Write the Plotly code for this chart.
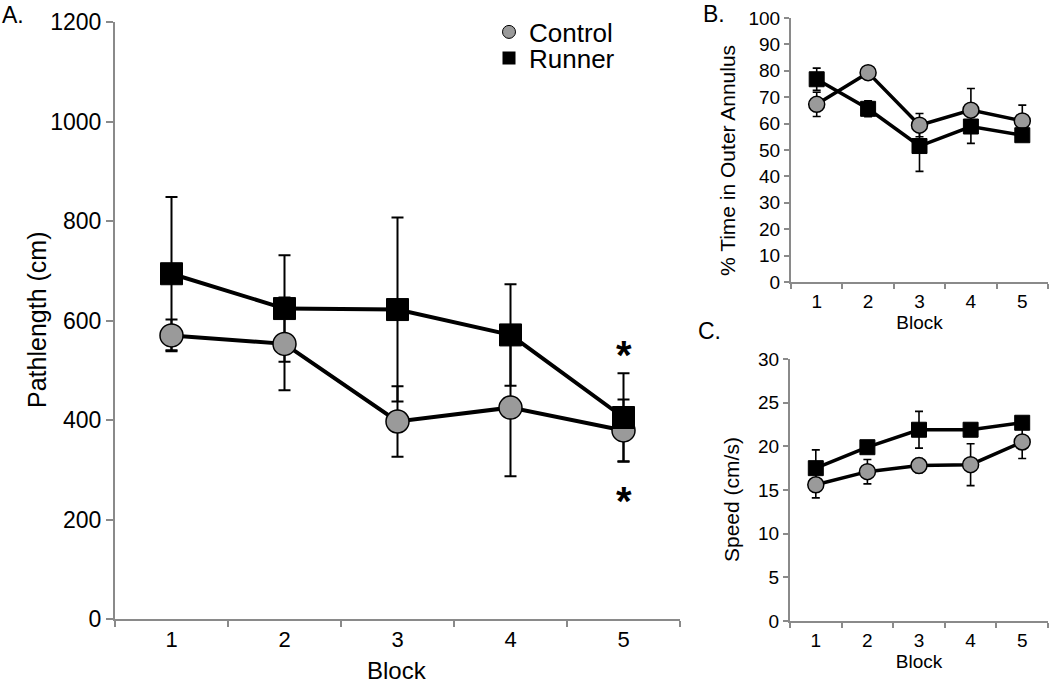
import plotly.graph_objects as go

blocks = ["1", "2", "3", "4", "5"]

# Panel A: Pathlength (cm)
path_control = [570, 553, 397, 425, 379]
path_control_err = [32, 93, 71, 138, 62]
path_runner = [694, 624, 622, 571, 405]
path_runner_err = [154, 107, 185, 102, 89]

# Panel B: % Time in Outer Annulus
time_control = [67.3, 79.3, 59.4, 65.1, 61.0]
time_control_err = [4.6, 1.0, 4.4, 8.2, 6.0]
time_runner = [76.8, 65.6, 51.5, 58.9, 55.6]
time_runner_err = [4.2, 3.0, 9.6, 6.4, 1.0]

# Panel C: Speed (cm/s)
speed_control = [15.6, 17.1, 17.8, 17.9, 20.5]
speed_control_err = [1.5, 1.4, 0.8, 2.4, 1.9]
speed_runner = [17.5, 19.9, 21.9, 21.9, 22.7]
speed_runner_err = [2.1, 0.7, 2.1, 0.5, 0.6]

FONT = "Liberation Sans, Arial, sans-serif"
GREY = "#9a9a9a"
AXIS = "#8a8a8a"

W, H = 1050, 686
def px(sx):
    return sx / W
def py(sy):
    return 1 - sy / H

fig = go.Figure()

panels = [
    ("x", "y", path_control, path_control_err, path_runner, path_runner_err, 23, 22, 4, 2, 6),
    ("x2", "y2", time_control, time_control_err, time_runner, time_runner_err, 16, 15, 3.5, 1.6, 4),
    ("x3", "y3", speed_control, speed_control_err, speed_runner, speed_runner_err, 16, 15, 3.5, 1.6, 4),
]

for xa, ya, c, ce, r, re_, csize, ssize, lw, ew, ewid in panels:
    for vals, errs in ((c, ce), (r, re_)):
        fig.add_trace(go.Scatter(
            x=blocks, y=vals, xaxis=xa, yaxis=ya, mode="markers",
            marker=dict(size=1, color="rgba(0,0,0,0)"),
            error_y=dict(type="data", array=errs, visible=True, color="black",
                         thickness=ew, width=ewid),
            showlegend=False, hoverinfo="skip"))
    fig.add_trace(go.Scatter(
        x=blocks, y=c, xaxis=xa, yaxis=ya, mode="lines+markers",
        line=dict(color="black", width=lw),
        marker=dict(symbol="circle", size=csize, color=GREY,
                    line=dict(color="black", width=1.5)),
        showlegend=False, name="Control"))
    fig.add_trace(go.Scatter(
        x=blocks, y=r, xaxis=xa, yaxis=ya, mode="lines+markers",
        line=dict(color="black", width=lw),
        marker=dict(symbol="square", size=ssize, color="black",
                    line=dict(color="black", width=1)),
        showlegend=False, name="Runner"))

# Legend entries
fig.add_trace(go.Scatter(x=[None], y=[None], mode="markers", name="Control",
                         legend="legend",
                         marker=dict(symbol="circle", size=13, color=GREY,
                                     line=dict(color="black", width=1))))
fig.add_trace(go.Scatter(x=[None], y=[None], mode="markers", name="Runner",
                         legend="legend2",
                         marker=dict(symbol="square", size=13, color="black")))

def xaxis(domain, anchor, size, tlen, standoff):
    return dict(domain=domain, anchor=anchor, type="category",
                categoryorder="array", categoryarray=blocks,
                range=[-0.5, 4.5], tickson="boundaries", ticks="outside",
                ticklen=tlen, tickcolor=AXIS, tickwidth=1.5, showline=True,
                linecolor=AXIS, linewidth=2, showgrid=False, zeroline=False,
                ticklabelstandoff=standoff,
                tickfont=dict(family=FONT, size=size, color="black"),
                automargin=False, fixedrange=True)

def yaxis(domain, anchor, rng, dtick, size, tlen):
    return dict(domain=domain, anchor=anchor, range=rng, dtick=dtick, tick0=0,
                ticks="outside", ticklen=tlen, tickcolor=AXIS, tickwidth=1.5,
                showline=True, linecolor=AXIS, linewidth=2, showgrid=False,
                zeroline=False,
                tickfont=dict(family=FONT, size=size, color="black"),
                automargin=False, fixedrange=True)

xa = xaxis([px(115), px(680)], "y", 22, 6, 0)
ya = yaxis([py(619), py(22)], "x", [0, 1200], 200, 23, 7)

xb = xaxis([px(791), px(1048)], "y2", 19, 5, 1)
xb["title"] = dict(text="Block", font=dict(family=FONT, size=19, color="black"), standoff=0)
yb = yaxis([py(282), py(18)], "x2", [0, 100], 10, 19, 5)

xc = xaxis([px(790), px(1048)], "y3", 19, 5, 1)
xc["title"] = dict(text="Block", font=dict(family=FONT, size=19, color="black"), standoff=0)
yc = yaxis([py(621), py(359)], "x3", [0, 30], 5, 19, 5)

legend_common = dict(xanchor="left", yanchor="middle",
                     font=dict(family=FONT, size=26, color="black"),
                     bgcolor="rgba(0,0,0,0)", itemwidth=30)

def label(text, sx, sy, size, angle=0):
    return dict(text=text, x=px(sx), y=py(sy), xref="paper", yref="paper",
                xanchor="center", yanchor="middle", showarrow=False,
                textangle=angle, font=dict(family=FONT, size=size, color="black"))

fig.update_layout(
    width=W, height=H,
    margin=dict(l=0, r=0, t=0, b=0),
    paper_bgcolor="white", plot_bgcolor="white",
    xaxis=xa, yaxis=ya, xaxis2=xb, yaxis2=yb, xaxis3=xc, yaxis3=yc,
    showlegend=True,
    legend=dict(x=px(489), y=py(32), **legend_common),
    legend2=dict(x=px(489), y=py(58), **legend_common),
    annotations=[
        label("A.", 13, 15, 23),
        label("B.", 714, 14, 23),
        label("C.", 709, 331, 23),
        label("Pathlength (cm)", 37, 320, 25, -90),
        label("Block", 397, 670, 24),
        label("% Time in Outer Annulus", 727, 161, 21, -90),
        label("Speed (cm/s)", 732, 500, 21, -90),
        dict(text="<b>*</b>", x=4, y=530, xref="x", yref="y", showarrow=False,
             font=dict(family=FONT, size=40, color="black")),
        dict(text="<b>*</b>", x=4, y=237, xref="x", yref="y", showarrow=False,
             font=dict(family=FONT, size=40, color="black")),
    ],
)

fig.write_html("out.html", config={"displayModeBar": False},
               post_script="document.body.style.margin='0px';")
